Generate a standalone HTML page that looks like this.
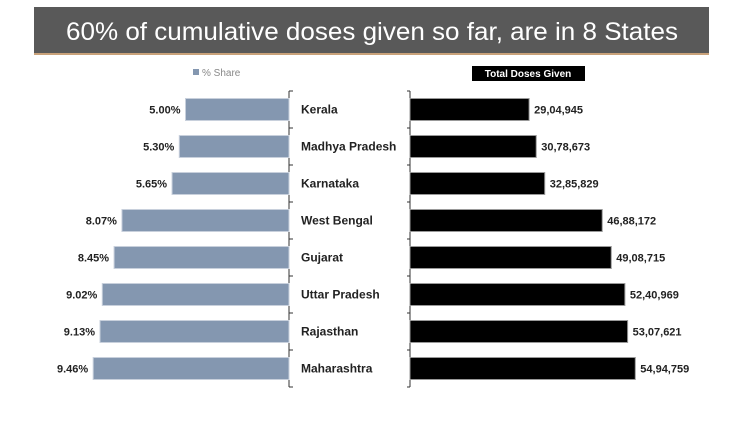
<!DOCTYPE html>
<html><head><meta charset="utf-8"><style>
body{margin:0;background:#fff;width:745px;height:423px;overflow:hidden;font-family:"Liberation Sans",sans-serif}
</style></head><body>
<svg width="745" height="423" xmlns="http://www.w3.org/2000/svg">
<rect x="34" y="7" width="675" height="46" fill="#595959"/>
<rect x="34" y="53" width="675" height="2" fill="#c9a27a"/>
<text x="372" y="40" text-anchor="middle" fill="#fff" font-size="25" textLength="612" lengthAdjust="spacingAndGlyphs">60% of cumulative doses given so far, are in 8 States</text>
<rect x="193" y="69" width="6" height="6" fill="#8497b0"/>
<text x="202" y="76" font-size="10" fill="#888">% Share</text>
<rect x="472" y="66" width="113" height="15" fill="#000"/>
<text x="528" y="77" text-anchor="middle" font-size="10" font-weight="bold" fill="#fff">Total Doses Given</text>
<g id="g"></g>
</svg>
<script>
const states=["Kerala","Madhya Pradesh","Karnataka","West Bengal","Gujarat","Uttar Pradesh","Rajasthan","Maharashtra"];
const shares=[5.00,5.30,5.65,8.07,8.45,9.02,9.13,9.46];
const doses=[2904945,3078673,3285829,4688172,4908715,5240969,5307621,5494759];
const doseLabels=["29,04,945","30,78,673","32,85,829","46,88,172","49,08,715","52,40,969","53,07,621","54,94,759"];
const NS="http://www.w3.org/2000/svg",g=document.getElementById('g');
const L0=289,R0=410,top0=91,step=37,bh=22;
const xs=v=>v*20.7, xd=v=>v/100000*4.1;
function mk(t,a){const e=document.createElementNS(NS,t);for(const k in a)e.setAttribute(k,a[k]);g.appendChild(e);return e;}
let ax=mk('line',{x1:L0,y1:top0,x2:L0,y2:top0+step*8,stroke:'#333'});

ax=mk('line',{x1:R0,y1:top0,x2:R0,y2:top0+step*8,stroke:'#333'});

for(let i=0;i<=8;i++){const y=top0+i*step;
 let t=mk('line',{x1:L0,y1:y,x2:L0+4,y2:y,stroke:'#333'});
 t=mk('line',{x1:R0-3,y1:y,x2:R0,y2:y,stroke:'#333'});}
states.forEach((s,i)=>{const cy=top0+step*i+step/2;
 const w=xs(shares[i]);
 let r=mk('rect',{x:L0-w,y:cy-bh/2,width:w,height:bh,fill:'#8497b0',stroke:'#c8d0dc'});
 
 let t=mk('text',{x:L0-w-5,y:cy+4,'text-anchor':'end','font-size':11,'font-weight':'bold',fill:'#222'});t.textContent=shares[i].toFixed(2)+'%';
 
 t=mk('text',{x:301,y:cy+4,'font-size':12,'font-weight':'bold',fill:'#222'});t.textContent=s;
 
 const wd=xd(doses[i]);
 r=mk('rect',{x:R0,y:cy-bh/2,width:wd,height:bh,fill:'#000',stroke:'#999'});
 
 t=mk('text',{x:R0+wd+5,y:cy+4,'font-size':11,'font-weight':'bold',fill:'#222'});t.textContent=doseLabels[i];
 
});
</script>
</body></html>
